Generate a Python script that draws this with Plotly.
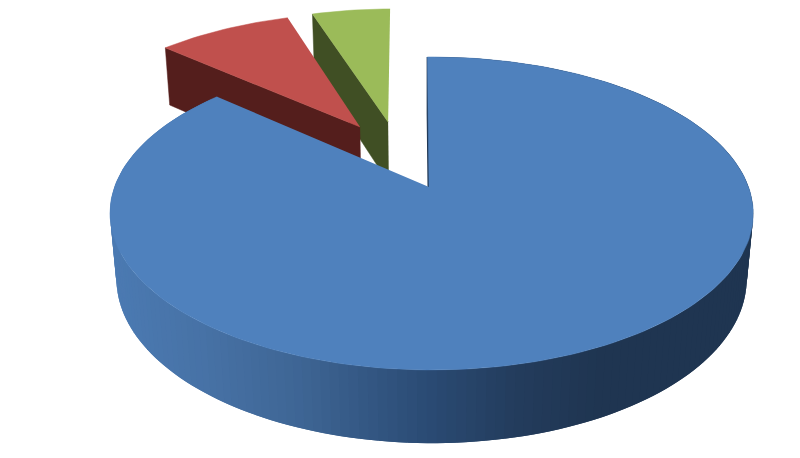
import math
import plotly.graph_objects as go

# Share of each slice in percent, clockwise from 12 o'clock
slice_names = ["Blue", "Red", "Green"]
slice_values = [86.7, 8.4, 4.9]
top_colors = ["#4F81BD", "#C0504D", "#9BBB59"]
cut_colors = ["#1F3551", "#541E1C", "#404F24"]

# How far each slice is pulled out, sideways and back on the pie's plane
explode_x = [0.0, -0.233, -0.139]
explode_y = [0.0, 0.423, 0.461]

# The big slice's rim sits a little right of its point in the picture
rim_shift_x = [0.008, 0.0, 0.0]

# Side wall shading of the big slice, left to right across the picture
wall_stop_x = [110, 200, 300, 430, 520, 600, 760]
wall_stop_rgb = [(75, 122, 178), (71, 114, 166), (62, 101, 148), (42, 74, 115), (35, 60, 92), (31, 53, 81), (31, 53, 81)]

# Camera settings for the tilted pie
CX, CY = 429, 187
FX, FY = 317, 152
TILT = 0.169
DEPTH = 66
SHRINK = 0.02
START_ANGLE = -0.8


def project(x, y, z=0):
    # z=0 is the top of the pie, z=1 the underside
    w = 1 + TILT * y + SHRINK * z
    return CX + FX * x / w, CY - (FY * y - DEPTH * z) / w


def rim(angle, off_x, off_y, z=0):
    a = math.radians(angle)
    return project(math.sin(a) + off_x, math.cos(a) + off_y, z)


def wall_color(x):
    for i in range(len(wall_stop_x) - 1):
        if x <= wall_stop_x[i + 1]:
            t = max(0, (x - wall_stop_x[i]) / (wall_stop_x[i + 1] - wall_stop_x[i]))
            rgb = [round(a + (b - a) * t) for a, b in zip(wall_stop_rgb[i], wall_stop_rgb[i + 1])]
            return "rgb(%d,%d,%d)" % tuple(rgb)
    return "rgb(%d,%d,%d)" % wall_stop_rgb[-1]


def add_poly(fig, pts, color, width=0.5):
    xs = [p[0] for p in pts]
    ys = [p[1] for p in pts]
    fig.add_trace(go.Scatter(x=xs, y=ys, mode="lines", fill="toself", fillcolor=color,
                             line=dict(color=color, width=width), hoverinfo="skip", showlegend=False))


fig = go.Figure()

# Turn the values into angle ranges
total = sum(slice_values)
ranges = []
angle = START_ANGLE
for v in slice_values:
    ranges.append((angle, angle + v / total * 360))
    angle += v / total * 360

# Small slices first, the big one goes over them
for i in [2, 1, 0]:
    a0, a1 = ranges[i]
    ox, oy = explode_x[i], explode_y[i]
    rx = ox + rim_shift_x[i]
    steps = max(8, int((a1 - a0) / 1.5))
    angles = [a0 + (a1 - a0) * s / steps for s in range(steps + 1)]

    if i == 0:
        # only the big slice shows its outer wall, each strip runs under the next so no seams show
        for a, b, c in zip(angles[:-2], angles[1:-1], angles[2:]):
            quad = [rim(a, rx, oy), rim(c, rx, oy), rim(c, rx, oy, 1), rim(a, rx, oy, 1)]
            mid_x = (rim(a, rx, oy)[0] + rim(b, rx, oy)[0]) / 2
            add_poly(fig, quad, wall_color(mid_x), 0)

    # cut face on the leading edge
    tip_top = project(ox, oy)
    tip_bottom = project(ox, oy, 1)
    add_poly(fig, [tip_top, rim(a0, rx, oy), rim(a0, rx, oy, 1), tip_bottom], cut_colors[i], 1.5 if i == 0 else 0.5)

    # top surface
    add_poly(fig, [tip_top] + [rim(a, rx, oy) for a in angles], top_colors[i])

fig.update_layout(width=800, height=458, margin=dict(l=0, r=0, t=0, b=0),
                  paper_bgcolor="white", plot_bgcolor="white", showlegend=False,
                  xaxis=dict(range=[0, 800], visible=False, fixedrange=True),
                  yaxis=dict(range=[458, 0], visible=False, fixedrange=True))

fig.write_html("out.html", config={"displayModeBar": False}, post_script="document.body.style.margin='0';")
